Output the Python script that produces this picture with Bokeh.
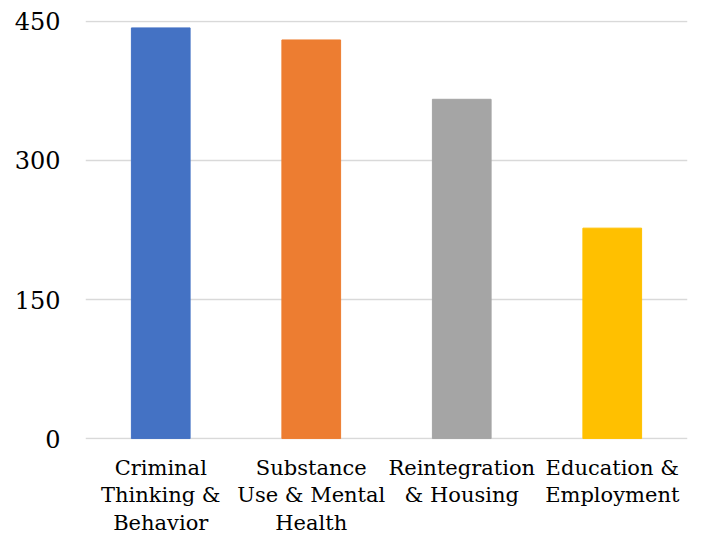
from bokeh.plotting import figure
from bokeh.models import Range1d, FixedTicker
from bokeh.embed import file_html
from bokeh.resources import INLINE

categories = ["Criminal\nThinking &\nBehavior", "Substance\nUse & Mental\nHealth",
              "Reintegration\n& Housing", "Education &\nEmployment"]
values = [443, 430, 366, 227]
colors = ["#4472C4", "#ED7D31", "#A5A5A5", "#FFC000"]
y_ticks = [0, 150, 300, 450]

p = figure(x_range=categories, y_range=Range1d(-1, 451), width=701, height=537,
           output_backend="svg", toolbar_location=None,
           min_border_left=85, min_border_right=14, min_border_top=20, min_border_bottom=97)
p.vbar(x=categories, top=values, width=0.39, color=colors)

p.outline_line_color = None
p.xgrid.grid_line_color = None
p.ygrid.grid_line_color = "#D9D9D9"
p.ygrid.grid_line_width = 1.5
p.yaxis.ticker = FixedTicker(ticks=y_ticks)
for ax in (p.xaxis[0], p.yaxis[0]):
    ax.axis_line_color = None
    ax.major_tick_line_color = None
    ax.minor_tick_line_color = None
    ax.major_label_text_font = "DejaVu Serif"
    ax.major_label_text_color = "#000000"
p.yaxis.major_label_text_font_size = "24px"
p.yaxis.major_label_standoff = 19
p.xaxis.major_label_text_font_size = "21px"
p.xaxis.major_label_standoff = 10
p.xaxis.major_label_orientation = "horizontal"
p.xaxis.major_label_text_align = "center"
p.xaxis.major_label_text_baseline = "top"
p.xaxis.major_label_text_line_height = 1.15

open("out.html", "w").write(file_html(p, INLINE))
